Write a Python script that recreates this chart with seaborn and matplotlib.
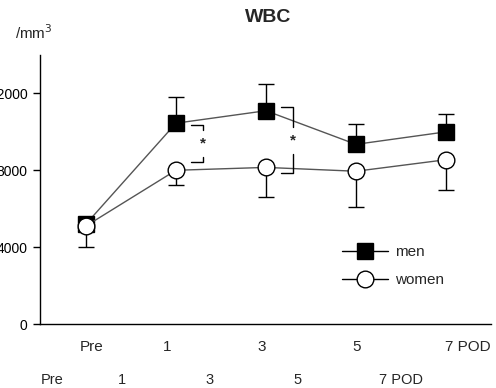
import numpy as np
import pandas as pd
import matplotlib
matplotlib.use("Agg")
import matplotlib.pyplot as plt
from matplotlib.lines import Line2D
import seaborn as sns

# values (cells / mm3)
days = ["Pre", "1", "3", "5", "7 POD"]
men_mean = [5200, 10450, 11100, 9350, 10000]
men_sd = [0, 1350, 1400, 1050, 950]
women_mean = [5100, 8000, 8150, 7950, 8550]
women_sd = [1100, 780, 1550, 1850, 1550]

# significance brackets (men vs women)
sig_pos = [1, 2]
sig_top = [10350, 11270]
sig_bot = [8420, 7850]

df = pd.DataFrame({
    "pos": list(range(len(days))) * 2,
    "wbc": men_mean + women_mean,
    "sex": ["men"] * len(days) + ["women"] * len(days),
})

sns.set_style("ticks")
plt.rcParams["font.family"] = ["Liberation Sans", "DejaVu Sans"]

fig = plt.figure(figsize=(4.96, 3.88), dpi=100)
ax = fig.add_axes([40 / 496, 64 / 388, 451 / 496, 269 / 388])

x = np.arange(len(days))
ax.errorbar(x, men_mean, yerr=[np.zeros(len(days)), men_sd], fmt="none",
            ecolor="black", elinewidth=1, capsize=6, capthick=1, zorder=1)
ax.errorbar(x, women_mean, yerr=[women_sd, np.zeros(len(days))], fmt="none",
            ecolor="black", elinewidth=1, capsize=6, capthick=1, zorder=1)

sns.lineplot(data=df, x="pos", y="wbc", hue="sex", style="sex",
             palette={"men": "#555555", "women": "#555555"},
             markers={"men": "s", "women": "o"}, dashes=False,
             markersize=12, linewidth=1, legend=False, ax=ax, zorder=3)
for ln, fc in zip(ax.lines[-2:], ["black", "white"]):
    ln.set_markerfacecolor(fc)
    ln.set_markeredgecolor("black")
    ln.set_markeredgewidth(1)

# brackets + asterisks
for p, t, b in zip(sig_pos, sig_top, sig_bot):
    bx = p + 0.30
    mid = (t + b) / 2
    ax.plot([bx - 0.13, bx, bx], [t, t, mid + 700], color="black", lw=1, zorder=4)
    ax.plot([bx - 0.13, bx, bx], [b, b, mid - 700], color="black", lw=1, zorder=4)
    ax.text(bx, mid, "*", ha="center", va="center", fontsize=11, fontweight="bold")

ax.set_xlim(-0.51, 4.5)
ax.set_ylim(0, 14000)
ax.set_yticks([0, 4000, 8000, 12000])
ax.set_yticklabels(["0", "4000", "8000", "12000"], fontsize=10)
ax.tick_params(axis="y", length=5, width=1, pad=4, colors="black")
ax.set_xticks([])
ax.set_xlabel("")
ax.set_ylabel("")
for s in ["top", "right"]:
    ax.spines[s].set_visible(False)
for s in ["left", "bottom"]:
    ax.spines[s].set_color("black")
    ax.spines[s].set_linewidth(1)

# x labels (two rows as in the original)
row1_x = [92, 167, 262, 357, 468]
row2_x = [52, 122, 210, 298, 401]
for lab, px in zip(days, row1_x):
    fig.text(px / 496, 1 - 347 / 388, lab, ha="center", va="center", fontsize=11)
for lab, px in zip(days, row2_x):
    fig.text(px / 496, 1 - 380 / 388, lab, ha="center", va="center", fontsize=10.5)

fig.text(268 / 496, 1 - 18 / 388, "WBC", ha="center", va="center",
         fontsize=14, fontweight="bold")
fig.text(15 / 496, 1 - 33 / 388, "/mm$^3$", ha="left", va="center", fontsize=11)

handles = [
    Line2D([], [], color="black", lw=1, marker="s", markersize=12,
           markerfacecolor="black", markeredgecolor="black"),
    Line2D([], [], color="black", lw=1, marker="o", markersize=12,
           markerfacecolor="white", markeredgecolor="black"),
]
ax.legend(handles, ["men", "women"], loc="center left",
          bbox_to_anchor=(288 / 451, 0.215), frameon=False, fontsize=11,
          handlelength=3.0, handletextpad=0.5, labelspacing=0.9)

fig.savefig("out.png", dpi=100)
